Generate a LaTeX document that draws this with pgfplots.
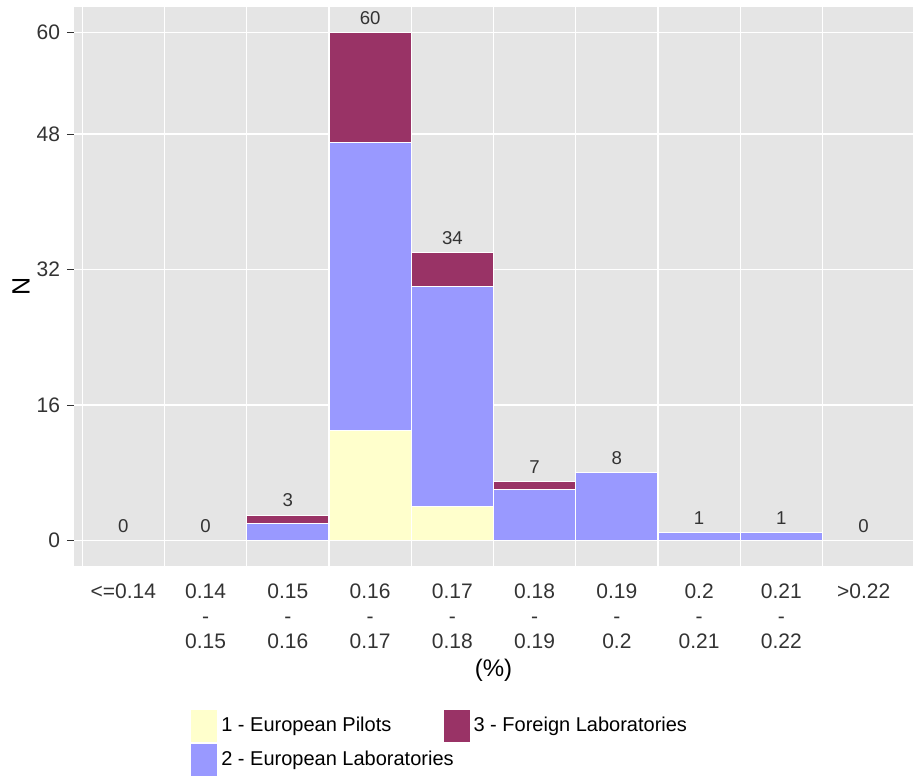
\documentclass[border=0pt]{standalone}
\usepackage{fontspec}
\setmainfont{Liberation Sans}
\usepackage{pgfplots}
\pgfplotsset{compat=1.18}
\definecolor{bg}{HTML}{E5E5E5}
\definecolor{cyel}{HTML}{FFFFCC}
\definecolor{cblu}{HTML}{9999FF}
\definecolor{cmar}{HTML}{993366}
\definecolor{txt}{HTML}{333333}
\pgfplotsset{legbox/.style={legend image code/.code={\draw[##1,draw=white,line width=0.3pt] (0pt,-8.25pt) rectangle (13.5pt,8.25pt); \path (20.5pt,0pt);}}}
\begin{document}
\begin{tikzpicture}
\begin{axis}[
  scale only axis, width=419.5pt, height=279.5pt,
  xmin=-0.6, xmax=9.6, ymin=-3, ymax=63,
  ybar stacked, bar width=1,
  axis background/.style={fill=bg},
  axis line style={draw=none},
  /pgf/number format/assume math mode=true,
  xtick={0,1,2,3,4,5,6,7,8,9},
  xticklabels={{<=0.14},{0.14\\-\\0.15},{0.15\\-\\0.16},{0.16\\-\\0.17},{0.17\\-\\0.18},{0.18\\-\\0.19},{0.19\\-\\0.2},{0.2\\-\\0.21},{0.21\\-\\0.22},{>0.22}},
  minor xtick={-0.5,0.5,1.5,2.5,3.5,4.5,5.5,6.5,7.5,8.5},
  xminorgrids=true,
  ytick={0,16,32,48,60},
  ymajorgrids=true,
  grid style={white, line width=0.6pt},
  minor grid style={white, line width=0.6pt},
  xtick style={draw=none},
  ytick style={draw=txt, line width=0.5pt},
  tick align=outside, major tick length=3.5pt,
  yticklabel style={font=\fontsize{10.5}{12}\selectfont, text=txt},
  xticklabel style={align=center, font=\fontsize{10.5}{12.5}\selectfont, text=txt, anchor=north, yshift=-2pt},
  xlabel={(\%)},
  xlabel style={at={(axis description cs:0.5,0)}, anchor=center, yshift=-52pt, font=\fontsize{12}{14}\selectfont},
  ylabel={N},
  ylabel style={at={(axis description cs:0,0.5)}, anchor=center, yshift=26.5pt, font=\fontsize{12.5}{14}\selectfont},
  legend style={draw=none, fill=none, at={(0,0)}, anchor=north west, xshift=58pt, yshift=-71.5pt,
    inner sep=0pt, row sep=0pt, column sep=-5.5pt, font=\fontsize{10}{12}\selectfont, nodes={inner sep=0pt}},
  legend cell align=left,
  legend columns=2, transpose legend,
]
\addplot[fill=cyel, draw=white, line width=0.6pt, legbox] coordinates {(0,0) (1,0) (2,0) (3,13) (4,4) (5,0) (6,0) (7,0) (8,0) (9,0)};
\addlegendentry{1 - European Pilots}
\addplot[fill=cblu, draw=white, line width=0.6pt, legbox] coordinates {(0,0) (1,0) (2,2) (3,34) (4,26) (5,6) (6,8) (7,1) (8,1) (9,0)};
\addlegendentry{2 - European Laboratories}
\addplot[fill=cmar, draw=white, line width=0.6pt, legbox] coordinates {(0,0) (1,0) (2,1) (3,13) (4,4) (5,1) (6,0) (7,0) (8,0) (9,0)};
\addlegendentry{3 - Foreign Laboratories}
\coordinate (ll) at (rel axis cs:0,0);
\coordinate (ur) at (rel axis cs:1,1);
\end{axis}
\begin{axis}[
  scale only axis, width=419.5pt, height=279.5pt,
  xmin=-0.6, xmax=9.6, ymin=-3, ymax=63,
  hide axis, clip=false,
]
\addplot[only marks, mark=none, nodes near coords, point meta=explicit symbolic,
  nodes near coords style={font=\fontsize{9.3}{11}\selectfont, text=txt, anchor=south, yshift=0.5pt}]
  coordinates {(0,0)[0] (1,0)[0] (2,3)[3] (3,60)[60] (4,34)[34] (5,7)[7] (6,8)[8] (7,1)[1] (8,1)[1] (9,0)[0]};
\end{axis}
\pgfresetboundingbox
\path ([xshift=-37pt,yshift=-107pt]ll) rectangle ([yshift=3.5pt]ur);
\end{tikzpicture}
\end{document}
